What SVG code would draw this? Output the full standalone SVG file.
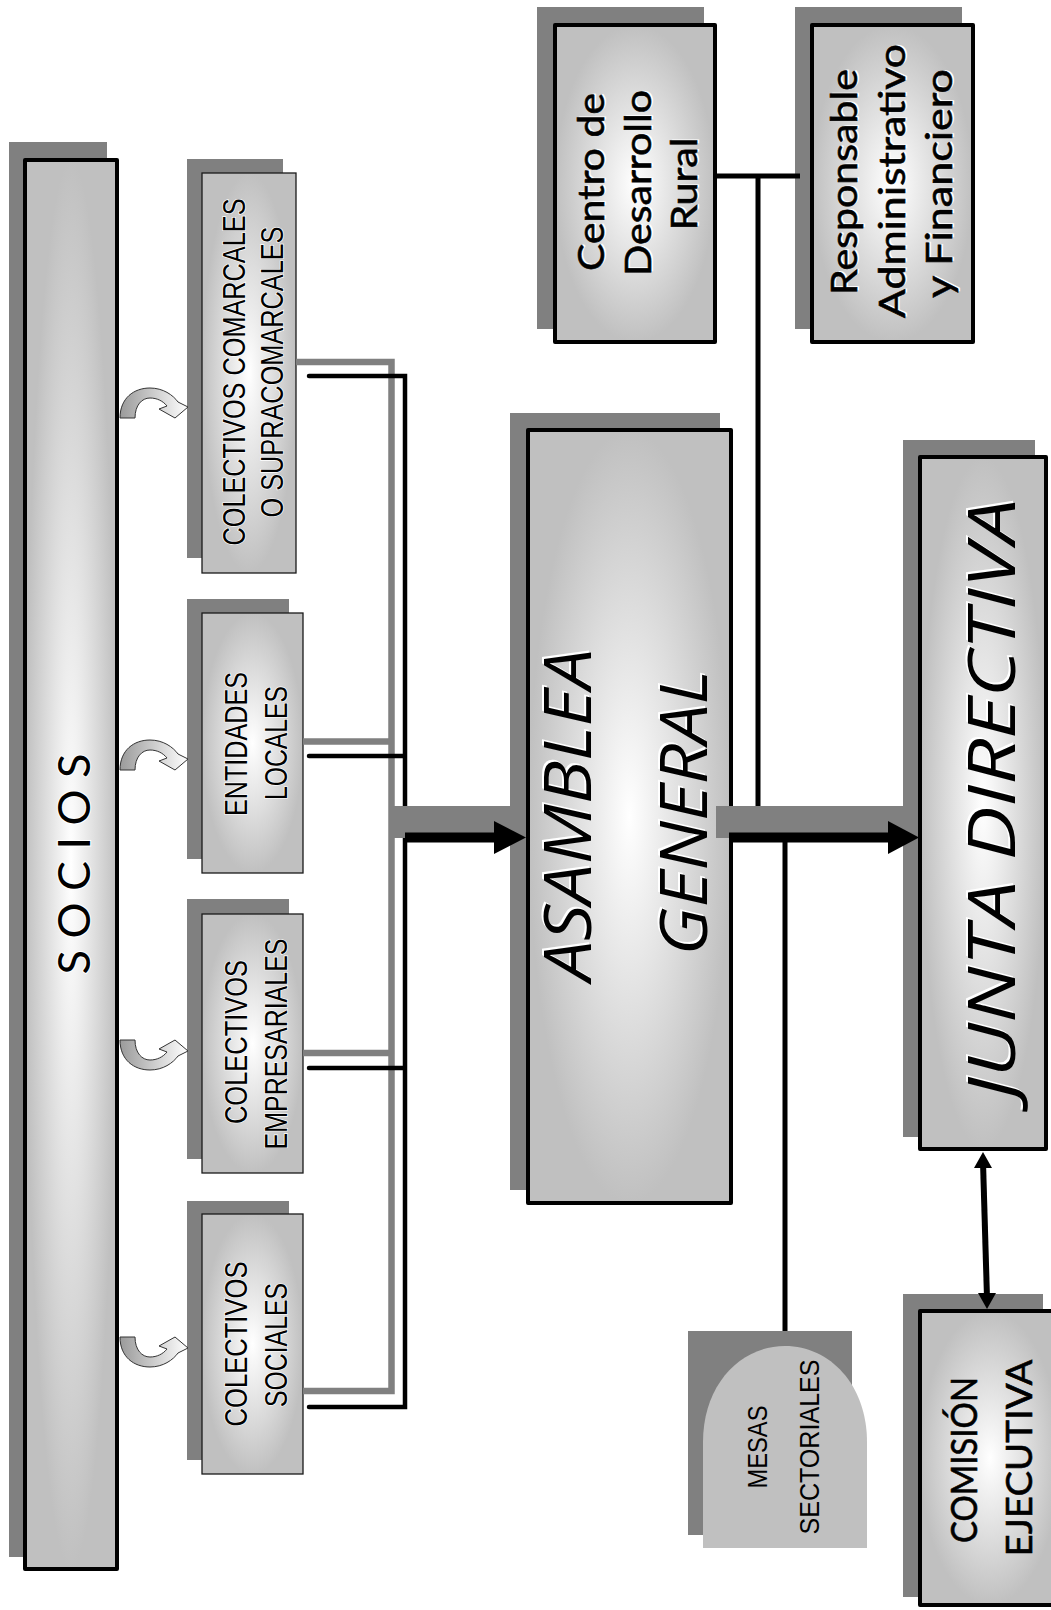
<svg xmlns="http://www.w3.org/2000/svg" width="1051" height="1610" viewBox="0 0 1051 1610">
<defs>
<radialGradient id="g" cx="0.5" cy="0.5" r="0.5">
<stop offset="0" stop-color="#ffffff"/>
<stop offset="0.4" stop-color="#e6e6e6"/>
<stop offset="1" stop-color="#c0c0c0"/>
</radialGradient>
<linearGradient id="ga" x1="0" y1="0" x2="1" y2="0">
<stop offset="0" stop-color="#9a9a9a"/>
<stop offset="1" stop-color="#ffffff"/>
</linearGradient>
<path id="carrow" d="M120,418 C120,398 134,388 150,388 C163,388 173,395 178,402 L188,407 L175,418 L159,409 L167,406 C163,401 157,398 150,398 C142,398 135,405 135,418 Z"/>
</defs>
<style>
.sh{fill:#808080}
.bx{fill:url(#g);stroke:#000;stroke-width:4;stroke-linejoin:round}
.bt{fill:url(#g);stroke:#1a1a1a;stroke-width:1.3}
.ca{fill:url(#ga);stroke:#333;stroke-width:1}
.t{font-family:"Liberation Sans Narrow","Liberation Sans",Arial,sans-serif;font-size:31px;fill:#000;text-anchor:middle;stroke:#fff;stroke-width:1.5;paint-order:stroke}
.c{font-family:Lato,"Open Sans","Liberation Sans",sans-serif;font-size:37px;fill:#000;text-anchor:middle;stroke:#000;stroke-width:0.6}
.cw{font-family:Lato,"Open Sans","Liberation Sans",sans-serif;font-size:37px;fill:#fff;text-anchor:middle}
.s{font-family:Lato,"Open Sans","Liberation Sans",sans-serif;font-size:45px;fill:#000;text-anchor:middle;stroke:#fff;stroke-width:2;paint-order:stroke}
.big{font-family:"Open Sans","Liberation Sans",sans-serif;font-style:italic;font-size:66px;text-anchor:middle}
.bw{fill:#fff}
.bb{fill:#000}
.m{font-family:"Liberation Sans Narrow","Liberation Sans",Arial,sans-serif;font-size:28px;fill:#000;text-anchor:middle}
.gl{fill:none;stroke:#808080;stroke-width:6.5}
.bl{fill:none;stroke:#000;stroke-width:4.5;stroke-linecap:round}
.vl{fill:none;stroke:#000;stroke-width:5}
</style>

<g id="socios">
<rect class="sh" x="9" y="142" width="98" height="1415"/>
<rect class="bx" x="25" y="160" width="92" height="1409"/>
<text class="s" transform="translate(90,864) rotate(-90)" textLength="221" lengthAdjust="spacing">S O C I O S</text>
</g>

<g id="colectivos-comarcales">
<rect class="sh" x="187" y="159" width="96" height="399"/>
<rect class="bt" x="202" y="173" width="94" height="400"/>
<text class="t" transform="translate(245,372) rotate(-90)" textLength="347" lengthAdjust="spacingAndGlyphs">COLECTIVOS COMARCALES</text>
<text class="t" transform="translate(283,372) rotate(-90)" textLength="291" lengthAdjust="spacingAndGlyphs">O SUPRACOMARCALES</text>
</g>

<g id="entidades-locales">
<rect class="sh" x="187" y="599" width="102" height="260"/>
<rect class="bt" x="202" y="613" width="101" height="260"/>
<text class="t" transform="translate(247,744) rotate(-90)" textLength="144" lengthAdjust="spacingAndGlyphs">ENTIDADES</text>
<text class="t" transform="translate(287,743) rotate(-90)" textLength="114" lengthAdjust="spacingAndGlyphs">LOCALES</text>
</g>

<g id="colectivos-empresariales">
<rect class="sh" x="187" y="899" width="102" height="260"/>
<rect class="bt" x="202" y="914" width="101" height="259"/>
<text class="t" transform="translate(247,1042) rotate(-90)" textLength="164" lengthAdjust="spacingAndGlyphs">COLECTIVOS</text>
<text class="t" transform="translate(287,1044) rotate(-90)" textLength="211" lengthAdjust="spacingAndGlyphs">EMPRESARIALES</text>
</g>

<g id="colectivos-sociales">
<rect class="sh" x="187" y="1201" width="102" height="259"/>
<rect class="bt" x="202" y="1214" width="101" height="260"/>
<text class="t" transform="translate(247,1344) rotate(-90)" textLength="165" lengthAdjust="spacingAndGlyphs">COLECTIVOS</text>
<text class="t" transform="translate(287,1345) rotate(-90)" textLength="124" lengthAdjust="spacingAndGlyphs">SOCIALES</text>
</g>

<g id="centro-desarrollo-rural">
<rect class="sh" x="537" y="7" width="167" height="322"/>
<rect class="bx" x="555" y="25" width="160" height="317"/>
<text class="cw" transform="translate(605.5,181) rotate(-90)" textLength="178" lengthAdjust="spacingAndGlyphs">Centro de</text>
<text class="c" transform="translate(604,182) rotate(-90)" textLength="178" lengthAdjust="spacingAndGlyphs">Centro de</text>
<text class="cw" transform="translate(652.5,182) rotate(-90)" textLength="186" lengthAdjust="spacingAndGlyphs">Desarrollo</text>
<text class="c" transform="translate(651,183) rotate(-90)" textLength="186" lengthAdjust="spacingAndGlyphs">Desarrollo</text>
<text class="cw" transform="translate(698.5,183) rotate(-90)" textLength="93" lengthAdjust="spacingAndGlyphs">Rural</text>
<text class="c" transform="translate(697,184) rotate(-90)" textLength="93" lengthAdjust="spacingAndGlyphs">Rural</text>
</g>

<g id="responsable">
<rect class="sh" x="795" y="7" width="167" height="322"/>
<rect class="bx" x="812" y="25" width="161" height="317"/>
<text class="cw" transform="translate(858.5,181) rotate(-90)" textLength="226" lengthAdjust="spacingAndGlyphs">Responsable</text>
<text class="c" transform="translate(857,182) rotate(-90)" textLength="226" lengthAdjust="spacingAndGlyphs">Responsable</text>
<text class="cw" transform="translate(906.5,180) rotate(-90)" textLength="274" lengthAdjust="spacingAndGlyphs">Administrativo</text>
<text class="c" transform="translate(905,181) rotate(-90)" textLength="274" lengthAdjust="spacingAndGlyphs">Administrativo</text>
<text class="cw" transform="translate(953.5,182.5) rotate(-90)" textLength="229" lengthAdjust="spacingAndGlyphs">y Financiero</text>
<text class="c" transform="translate(952,183.5) rotate(-90)" textLength="229" lengthAdjust="spacingAndGlyphs">y Financiero</text>
</g>

<g id="asamblea-general">
<rect class="sh" x="510" y="413" width="210" height="777"/>
<rect class="bx" x="528" y="430" width="203" height="773"/>
<text class="big bw" transform="translate(589,813) rotate(-90)" textLength="332" lengthAdjust="spacingAndGlyphs">ASAMBLEA</text>
<text class="big bb" transform="translate(591,815) rotate(-90)" textLength="332" lengthAdjust="spacingAndGlyphs">ASAMBLEA</text>
<text class="big bw" transform="translate(705,811) rotate(-90)" textLength="285" lengthAdjust="spacingAndGlyphs">GENERAL</text>
<text class="big bb" transform="translate(707,813) rotate(-90)" textLength="285" lengthAdjust="spacingAndGlyphs">GENERAL</text>
</g>

<g id="junta-directiva">
<rect class="sh" x="903" y="440" width="132" height="697"/>
<rect class="bx" x="920" y="457" width="126" height="692"/>
<text class="big bw" transform="translate(1013,797) rotate(-90)" textLength="600" lengthAdjust="spacingAndGlyphs">JUNTA DIRECTIVA</text>
<text class="big bb" transform="translate(1015,799) rotate(-90)" textLength="600" lengthAdjust="spacingAndGlyphs">JUNTA DIRECTIVA</text>
</g>

<g id="mesas-sectoriales">
<rect class="sh" x="688" y="1331" width="164" height="204"/>
<path d="M703,1548 V1442 C703,1385 740,1346 785,1346 C830,1346 867,1385 867,1442 V1548 Z" fill="#c0c0c0"/>
<text class="m" transform="translate(767,1447) rotate(-90)" textLength="83" lengthAdjust="spacingAndGlyphs">MESAS</text>
<text class="m" transform="translate(819,1447) rotate(-90)" textLength="175" lengthAdjust="spacingAndGlyphs">SECTORIALES</text>
</g>

<g id="comision-ejecutiva">
<rect class="sh" x="903" y="1294" width="140" height="303"/>
<rect class="bx" x="920" y="1311" width="140" height="294"/>
<text class="c" transform="translate(977,1460) rotate(-90)" textLength="166" lengthAdjust="spacingAndGlyphs">COMISIÓN</text>
<text class="c" transform="translate(1032,1458) rotate(-90)" textLength="197" lengthAdjust="spacingAndGlyphs">EJECUTIVA</text>
</g>

<g id="connectors">
<use href="#carrow" class="ca"/>
<use href="#carrow" class="ca" transform="translate(0,352)"/>
<use href="#carrow" class="ca" transform="translate(0,1458) scale(1,-1)"/>
<use href="#carrow" class="ca" transform="translate(0,1755) scale(1,-1)"/>

<path class="gl" d="M296,362 H391.5 V1391 H303 M303,741.5 H391.5 M303,1053 H391.5"/>
<path class="bl" d="M309,376 H405 V1407 H309 M309,756 H405 M309,1068 H405"/>

<path class="vl" d="M717,176 H800 M758,176 V830"/>
<path class="vl" d="M785,838 V1331"/>

<rect class="sh" x="389" y="806" width="121" height="32"/>
<path d="M405,837.5 H496" stroke="#000" stroke-width="10"/>
<polygon points="494,821 526,837.5 494,854" fill="#000"/>

<rect class="sh" x="716" y="806" width="187" height="32"/>
<path d="M729,837.5 H890" stroke="#000" stroke-width="10"/>
<polygon points="888,821 919,837.5 888,854" fill="#000"/>

<path d="M983,1162 L987,1298" stroke="#000" stroke-width="6"/>
<polygon points="983,1152 974,1168 992,1168" fill="#000"/>
<polygon points="987,1309 978,1293 996,1293" fill="#000"/>
</g>
</svg>
